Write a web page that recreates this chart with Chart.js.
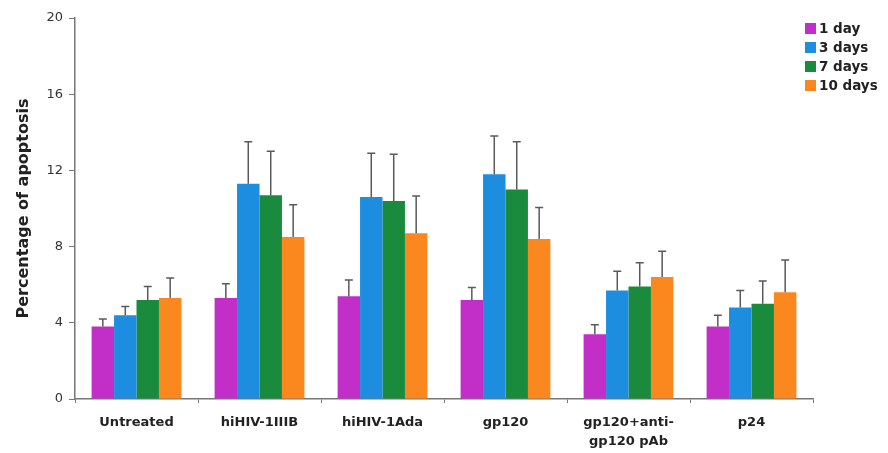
<!DOCTYPE html>
<html>
<head>
<meta charset="utf-8">
<script src="https://cdn.jsdelivr.net/npm/chart.js@4"></script>
<style>
  html, body { margin: 0; padding: 0; background: #ffffff; }
  #wrap { width: 888px; height: 453px; position: relative; }
</style>
</head>
<body>
<div id="wrap"><canvas id="chart"></canvas></div>
<script>
const categories = ['Untreated', 'hiHIV-1IIIB', 'hiHIV-1Ada', 'gp120', ['gp120+anti-', 'gp120 pAb'], 'p24'];
const seriesNames = ['1 day', '3 days', '7 days', '10 days'];
const seriesColors = ['#c22fc8', '#1d8de0', '#1a8a3c', '#fb871f'];

const day1 = [3.8, 5.3, 5.4, 5.2, 3.4, 3.8];
const day3 = [4.4, 11.3, 10.6, 11.8, 5.7, 4.8];
const day7 = [5.2, 10.7, 10.4, 11.0, 5.9, 5.0];
const day10 = [5.3, 8.5, 8.7, 8.4, 6.4, 5.6];

// upper error (SD)
const err1 = [0.4, 0.75, 0.85, 0.65, 0.5, 0.6];
const err3 = [0.45, 2.2, 2.3, 2.0, 1.0, 0.9];
const err7 = [0.7, 2.3, 2.45, 2.5, 1.25, 1.2];
const err10 = [1.05, 1.7, 1.95, 1.65, 1.35, 1.7];

const yTicks = [0, 4, 8, 12, 16, 20];

const values = [day1, day3, day7, day10];
const errors = [err1, err3, err7, err10];

const errorBars = {
  id: 'errorBars',
  afterDatasetsDraw(chart) {
    const ctx = chart.ctx;
    const y = chart.scales.y;
    ctx.save();
    ctx.strokeStyle = '#5a5a5a';
    ctx.lineWidth = 1.5;
    chart.data.datasets.forEach((ds, i) => {
      const meta = chart.getDatasetMeta(i);
      meta.data.forEach((bar, j) => {
        const top = y.getPixelForValue(ds.data[j] + errors[i][j]);
        ctx.beginPath();
        ctx.moveTo(bar.x, bar.y);
        ctx.lineTo(bar.x, top);
        ctx.moveTo(bar.x - 4, top);
        ctx.lineTo(bar.x + 4, top);
        ctx.stroke();
      });
    });
    ctx.restore();
  }
};

const floatLegend = {
  id: 'floatLegend',
  afterDraw(chart) {
    const ctx = chart.ctx;
    ctx.save();
    ctx.font = 'bold 13.5px "DejaVu Sans"';
    ctx.textBaseline = 'middle';
    chart.data.datasets.forEach((ds, i) => {
      const yy = 28 + i * 19;
      ctx.fillStyle = ds.backgroundColor;
      ctx.fillRect(805, yy - 5, 11, 11);
      ctx.fillStyle = '#222';
      ctx.fillText(ds.label, 819, yy + 1);
    });
    ctx.restore();
  }
};

new Chart(document.getElementById('chart'), {
  type: 'bar',
  data: {
    labels: categories,
    datasets: seriesNames.map((name, i) => ({
      label: name,
      data: values[i],
      backgroundColor: seriesColors[i],
      borderWidth: 0,
      barPercentage: 1,
      categoryPercentage: 0.73
    }))
  },
  options: {
    responsive: true,
    maintainAspectRatio: false,
    animation: false,
    layout: { padding: { top: 18, right: 75, left: 0, bottom: 0 } },
    plugins: {
      legend: { display: false },
      tooltip: { enabled: false }
    },
    scales: {
      x: {
        grid: { display: true, drawOnChartArea: false, offset: true, tickLength: 4, color: '#777' },
        border: { color: '#777', width: 1.5 },
        ticks: { color: '#222', font: { family: '"DejaVu Sans"', size: 13, weight: 'bold', lineHeight: 1.4 }, padding: 11, maxRotation: 0 },
        afterFit(scale) { scale.height = 54; }
      },
      y: {
        min: 0,
        max: 20,
        afterBuildTicks(scale) { scale.ticks = yTicks.map(v => ({ value: v })); },
        grid: { display: true, drawOnChartArea: false, tickLength: 6, color: '#777' },
        border: { color: '#777', width: 1.5 },
        ticks: { color: '#333', font: { family: '"DejaVu Sans"', size: 13 }, padding: 6 },
        title: {
          display: true,
          text: 'Percentage of apoptosis',
          color: '#222',
          font: { family: '"DejaVu Sans"', size: 16, weight: 'bold' },
          padding: { top: 14, bottom: 4 }
        },
        afterFit(scale) { scale.width = 75; }
      }
    }
  },
  plugins: [errorBars, floatLegend]
});
</script>
</body>
</html>
